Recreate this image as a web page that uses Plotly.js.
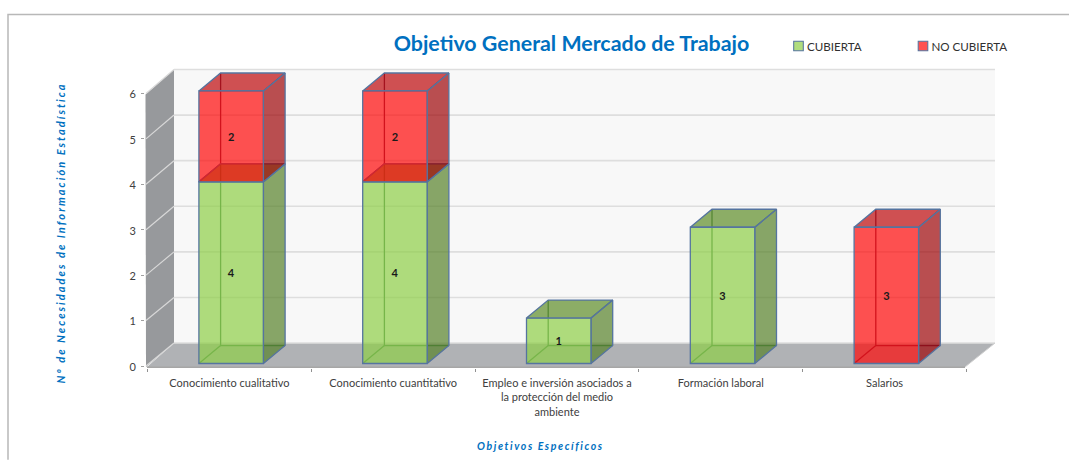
<!DOCTYPE html>
<html>
<head>
<meta charset="utf-8">
<script src="https://cdn.plot.ly/plotly-3.0.1.min.js"></script>
<style>
html,body{margin:0;padding:0;background:#fff;overflow:hidden}
.annotation[data-index="0"] .annotation-text{letter-spacing:2.05px}
.annotation[data-index="1"] .annotation-text{letter-spacing:1.6px}
.legend .legendtext{transform:translate(-11.5px,0)}
.legend .legendbar path,.legend .legendpoints path{transform:translate(20px,0) scale(.8)}
</style>
</head>
<body>
<div id="chart" style="width:1069px;height:460px"></div>
<script>
const categories = ['Conocimiento cualitativo','Conocimiento cuantitativo','Empleo e inversión asociados a<br>la protección del medio<br>ambiente','Formación laboral','Salarios'];
const cubierta = [4,4,1,3,0];
const noCubierta = [2,2,0,0,3];
const yTicks = [0,1,2,3,4,5,6];

const W=1069,H=460,L=145,R=998,T=60,B=368;
const pxX=163.8, pxY=45.5, x0px=147.5, y0px=366;
const xv=p=>(p-x0px)/pxX, yv=p=>(y0px-p)/pxY;
const xRange=[xv(L),xv(R)], yRange=[yv(B),yv(T)];
const barW=64.5/pxX, shift=1.75/pxX, lift=2.5/pxY, dX=21.7/pxX, dY=18/pxY;
const centers=categories.map((c,i)=>i+0.5+shift);
const wallBackX0=xv(174), wallBackX1=xv(995), wallY0=yv(343), wallStep=(yv(69)-yv(343))/6;
const gridY=v=>wallY0+v*wallStep;
const edge='#55749f';

function segs(vals,bases){
  const side=[],top=[],back=[];
  vals.forEach((v,i)=>{
    if(!v) return;
    const a=centers[i]-barW/2,b=centers[i]+barW/2,lo=bases[i]+lift,hi=lo+v;
    side.push([b,lo],[b+dX,lo+dY],[b+dX,hi+dY],[b,hi],[b,lo],[null,null]);
    top.push([a,hi],[b,hi],[b+dX,hi+dY],[a+dX,hi+dY],[a,hi],[null,null]);
    back.push([a+dX,hi+dY],[a+dX,lo+dY],[b+dX,lo+dY],[null,null],[a,lo],[a+dX,lo+dY],[null,null]);
  });
  return {side,top,back};
}
const zeros=cubierta.map(()=>0);
const G=segs(cubierta,zeros), Rd=segs(noCubierta,cubierta);

const poly=(pts,fill)=>({type:'scatter',mode:'lines',x:pts.map(p=>p[0]),y:pts.map(p=>p[1]),fill:'toself',fillcolor:fill,
  line:{color:edge,width:1.3},hoverinfo:'skip',showlegend:false,xaxis:'x',yaxis:'y'});
const lines=(pts,color)=>({type:'scatter',mode:'lines',x:pts.map(p=>p[0]),y:pts.map(p=>p[1]),
  line:{color:color,width:1.3},hoverinfo:'skip',showlegend:false,xaxis:'x',yaxis:'y'});

const lbl=a=>a.map(v=>v?String(v):'');
const bar=(name,vals,bases,color)=>({type:'bar',name:name,x:centers,y:vals.map(v=>v||null),
  base:bases.map(b=>b+lift),width:barW,xaxis:'x2',yaxis:'y2',
  marker:{color:color,line:{color:edge,width:1.3}},
  text:lbl(vals),textposition:'inside',insidetextanchor:'middle',textangle:0,constraintext:'none',
  textfont:{family:'Lato',size:11,color:'#1a1a1a',weight:'bold'},hoverinfo:'skip'});

const traces=[
  lines(G.back,'#3f7a4f'),lines(Rd.back,'#6a2a4a'),
  poly(G.side,'rgba(87,130,41,.7)'),poly(G.top,'rgba(94,141,40,.7)'),
  poly(Rd.side,'rgba(158,6,9,.7)'),poly(Rd.top,'rgba(190,8,11,.7)'),
  bar('CUBIERTA',cubierta,zeros,'rgba(143,207,71,.7)'),
  bar('NO CUBIERTA',noCubierta,cubierta,'rgba(255,8,8,.7)')
];

const shapes=[];
const pX=p=>(p-L)/(R-L), pY=p=>(B-p)/(B-T);
shapes.push({type:'path',layer:'below',xref:'paper',yref:'paper',line:{color:'#b8b8b8',width:1.5},
  path:`M${pX(8)},${pY(460)} L${pX(8)},${pY(14)} L${pX(1069)},${pY(14)}`});
shapes.push({type:'rect',layer:'below',x0:wallBackX0,x1:wallBackX1,y0:wallY0,y1:gridY(6),fillcolor:'#f8f8f8',line:{width:0}});
shapes.push({type:'path',layer:'below',fillcolor:'#97999c',line:{width:0},
  path:`M${xv(145.5)},${yv(94)} L${wallBackX0},${gridY(6)} L${wallBackX0},${wallY0} L${xv(146)},${yv(367)} Z`});
shapes.push({type:'path',layer:'below',fillcolor:'#b0b2b5',line:{width:0},
  path:`M${xv(147)},${yv(367)} L${wallBackX0},${wallY0} L${wallBackX1},${wallY0} L${xv(965)},${yv(367)} Z`});
yTicks.forEach(v=>{
  shapes.push({type:'line',layer:'below',x0:wallBackX0,x1:wallBackX1,y0:gridY(v),y1:gridY(v),line:{color:'#dedede',width:1.6}});
  shapes.push({type:'line',layer:'below',x0:xv(146),x1:wallBackX0,y0:v,y1:gridY(v),line:{color:'#d8d8d8',width:1.2}});
});
shapes.push({type:'line',layer:'below',x0:xv(147),x1:xv(965),y0:yv(367.3),y1:yv(367.3),line:{color:'#a6a6a6',width:1.6}});
shapes.push({type:'line',layer:'below',x0:xv(965),x1:wallBackX1,y0:yv(367),y1:wallY0,line:{color:'#d0d0d0',width:1}});

const tickFont={family:'Lato',size:11,color:'#404040'};
const titleBlue='#0070c0';
const layout={
  width:W,height:H,paper_bgcolor:'#fff',plot_bgcolor:'rgba(0,0,0,0)',
  margin:{l:L,r:W-R,t:T,b:H-B,pad:0},
  barmode:'overlay',
  font:{family:'Lato'},
  title:{text:'<b>Objetivo General Mercado de Trabajo</b>',font:{family:'Lato',size:21.4,color:titleBlue},
    x:571.5/W,xanchor:'center',xref:'container',y:1-44/H,yanchor:'middle',yref:'container'},
  xaxis:{range:xRange,showgrid:false,zeroline:false,showline:false,tickmode:'array',
    tickvals:categories.map((c,i)=>i+0.5),ticktext:categories,ticks:'',tickangle:0,tickfont:tickFont,ticklabelstandoff:7,
    minor:{tickmode:'array',tickvals:[0,1,2,3,4,5],ticks:'outside',ticklen:3,tickcolor:'#909090',tickwidth:1,showgrid:false}},
  yaxis:{range:yRange,showgrid:false,zeroline:false,showline:false,tickmode:'array',tickvals:yTicks,ticktext:yTicks.map(String),
    ticks:'outside',ticklen:3,tickcolor:'#a0a0a0',tickfont:{family:'Lato',size:11,color:'#404040'},ticklabelstandoff:3,ticklabelshift:1},
  xaxis2:{range:xRange,overlaying:'x',visible:false,anchor:'y2'},
  yaxis2:{range:yRange,overlaying:'y',visible:false,anchor:'x2'},
  legend:{orientation:'h',x:778.5/W,xref:'container',xanchor:'left',y:1-46/H,yref:'container',yanchor:'middle',
    entrywidth:79.5,entrywidthmode:'pixels',traceorder:'normal',itemclick:false,itemdoubleclick:false,
    font:{family:'Lato',size:11.6,color:'#303030'},bgcolor:'rgba(0,0,0,0)',borderwidth:0},
  shapes:shapes,
  annotations:[
    {text:'<b><i>Nº de Necesidades de Información Estadística</i></b>',xref:'paper',yref:'paper',x:pX(60),y:pY(233),textangle:-90,showarrow:false,
      xanchor:'center',yanchor:'middle',font:{family:'Lato',size:11,color:titleBlue}},
    {text:'<b><i>Objetivos Específicos</i></b>',xref:'paper',yref:'paper',x:pX(540.5),y:pY(446),showarrow:false,
      xanchor:'center',yanchor:'middle',font:{family:'Lato',size:10.5,color:titleBlue}}
  ]
};
Plotly.newPlot('chart',traces,layout,{displayModeBar:false,responsive:false});
</script>
</body>
</html>
